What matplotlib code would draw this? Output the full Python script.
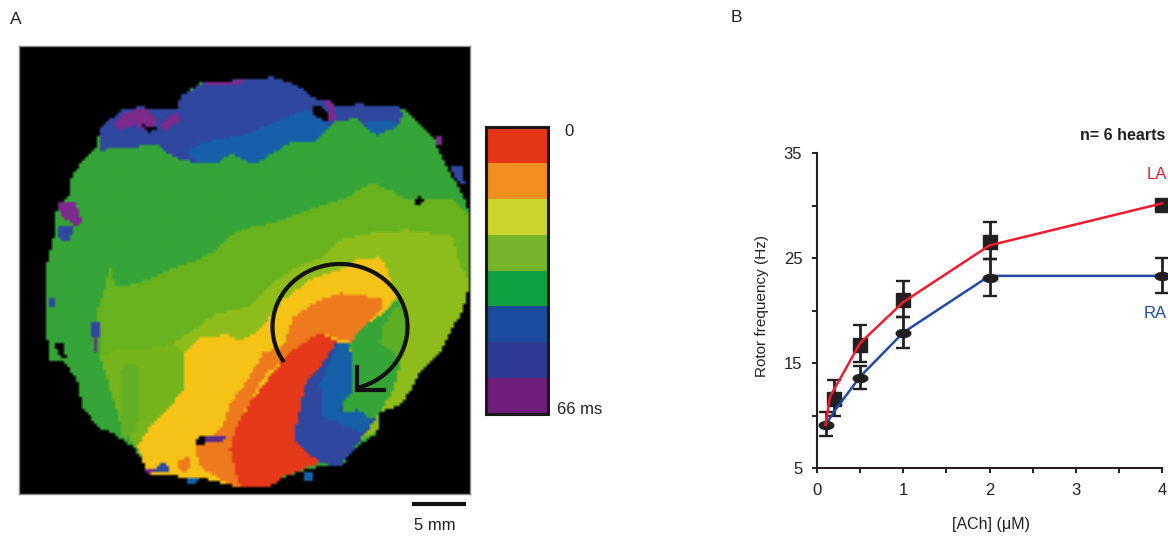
import matplotlib
matplotlib.use('Agg')
import matplotlib.pyplot as plt
import numpy as np
from matplotlib.colors import ListedColormap, to_rgb
from matplotlib.patches import Arc
from matplotlib.path import Path
from matplotlib.transforms import Affine2D
from matplotlib.ticker import MultipleLocator

plt.rcParams['font.family'] = ['Liberation Sans', 'DejaVu Sans']

# Panel B: rotor frequency
ach_la = [0.2, 0.5, 1, 2, 4]
freq_la = [11.6, 16.7, 21.0, 26.5, 30.05]
err_la_low = [1.6, 1.6, 1.6, 1.6, 0]
err_la_high = [1.8, 1.9, 1.8, 1.9, 0]
ach_ra = [0.1, 0.5, 1, 2, 4]
freq_ra = [9.1, 13.6, 17.9, 23.1, 23.3]
err_ra_low = [1.05, 1.1, 1.5, 1.7, 1.6]
err_ra_high = [1.2, 1.1, 1.5, 1.8, 1.7]
line_la_x = [0.1, 0.15, 0.22, 0.5, 1, 2, 4]
line_la_y = [9.1, 11.8, 12.8, 16.9, 20.8, 26.2, 30.2]
line_ra_x = [0.1, 0.2, 0.5, 1, 2, 4]
line_ra_y = [9.1, 10.4, 13.7, 17.9, 23.3, 23.3]

# Panel A: isochrone scale
scale_colors = ['#e53517', '#f18f1e', '#c9d32c', '#76b52a', '#0fa13f', '#1a4b9c', '#2e3a92', '#6f1d7b']

heart = [(203, 82), (240, 80), (273, 77), (300, 87), (313, 97), (340, 107), (357, 104), (400, 107), (413, 117),
         (433, 137), (443, 160), (460, 190), (470, 213), (470, 280), (463, 310), (450, 333), (440, 353), (420, 373),
         (403, 403), (380, 413), (377, 433), (357, 447), (340, 467), (317, 467), (283, 477), (270, 487), (240, 488),
         (213, 480), (183, 477), (147, 473), (143, 460), (133, 447), (113, 433), (97, 427), (83, 407), (77, 380),
         (63, 360), (50, 360), (47, 337), (47, 290), (47, 263), (53, 243), (57, 207), (70, 193), (70, 180), (83, 160),
         (97, 147), (100, 127), (123, 110), (140, 107), (177, 110), (180, 97), (200, 83)]
blue_top = [(100, 150), (133, 147), (157, 145), (173, 157), (197, 163), (217, 163), (233, 153), (240, 158), (253, 165),
            (290, 143), (313, 143), (327, 130), (333, 123), (357, 118), (367, 130), (377, 135), (397, 127), (403, 117),
            (400, 107), (357, 104), (340, 107), (313, 97), (300, 87), (273, 77), (240, 80), (203, 82), (180, 97),
            (177, 110), (140, 107), (123, 110), (100, 127)]
teal_top = [(187, 153), (200, 142), (227, 138), (250, 133), (273, 123), (297, 113), (307, 110), (327, 123), (327, 130),
            (313, 143), (290, 143), (253, 165), (240, 158), (233, 153), (217, 163), (197, 163)]
teal_top2 = [(367, 120), (390, 120), (397, 127), (377, 135), (367, 130)]
green2_band = [(97, 313), (105, 287), (110, 265), (115, 285), (127, 285), (147, 280), (167, 270), (197, 260), (217, 250),
               (227, 237), (250, 227), (273, 223), (300, 213), (340, 200), (373, 183), (390, 190), (407, 200), (453, 200),
               (470, 217), (470, 280), (323, 270), (250, 320), (197, 340), (100, 357)]
lime = [(100, 357), (117, 350), (140, 350), (173, 343), (197, 327), (217, 313), (250, 307), (270, 285), (300, 265),
        (323, 257), (340, 240), (373, 233), (407, 230), (453, 237), (460, 265), (470, 280), (463, 310), (450, 333),
        (440, 353), (420, 373), (403, 403), (380, 413), (377, 433), (300, 460), (137, 447), (122, 430), (115, 405), (107, 378)]
green2_low = [(100, 357), (107, 378), (115, 405), (122, 430), (137, 447), (150, 427), (167, 410), (185, 387), (183, 353),
              (173, 343), (140, 350), (117, 350)]
green2_patch = [(123, 363), (137, 363), (140, 380), (137, 430), (123, 440), (120, 410)]
yellow = [(183, 353), (200, 337), (227, 335), (240, 340), (257, 333), (273, 313), (283, 300), (310, 280), (340, 270),
          (357, 260), (380, 257), (387, 270), (397, 297), (383, 313), (363, 327), (350, 343), (300, 470), (240, 488),
          (213, 480), (183, 477), (147, 473), (143, 460), (137, 447), (150, 427), (167, 410), (185, 387), (183, 370)]
orange = [(283, 347), (293, 317), (320, 300), (340, 293), (380, 298), (383, 307), (367, 323), (353, 343), (320, 333),
          (293, 350), (283, 360), (265, 375), (240, 420), (240, 487), (233, 487), (200, 467), (195, 447), (207, 443),
          (223, 427), (230, 403), (248, 380), (263, 353)]
red = [(240, 487), (230, 450), (233, 437), (240, 420), (250, 403), (262, 387), (283, 360), (293, 350), (320, 333), (337, 342),
       (320, 367), (307, 383), (303, 403), (297, 420), (293, 440), (320, 463), (283, 477), (270, 487)]
blue_low = [(337, 342), (348, 342), (352, 363), (353, 390), (343, 403), (343, 412), (357, 410), (372, 420), (377, 417),
            (357, 445), (340, 467), (320, 463), (293, 440), (298, 417), (307, 380), (320, 367)]
teal_low = [(337, 342), (350, 343), (353, 390), (342, 403), (340, 413), (357, 410), (373, 420), (363, 433), (337, 423),
            (323, 417), (320, 383), (330, 360)]
green_low = [(350, 343), (363, 327), (383, 313), (397, 300), (404, 310), (407, 330), (400, 365), (395, 385), (390, 395),
             (380, 413), (373, 420), (357, 410), (343, 412), (343, 403), (353, 390), (352, 363)]
green2_arrow = [(397, 303), (383, 327), (380, 343), (403, 360), (407, 320)]

# Noisy bits along the edge of the map
blobs = [
    ('#7d2a8c', [(113, 125), (125, 112), (145, 108), (157, 120), (150, 132), (135, 125), (120, 130)]),
    ('#7d2a8c', [(160, 125), (178, 110), (180, 120), (165, 132)]),
    ('#7d2a8c', [(58, 203), (75, 202), (83, 222), (75, 226), (60, 215)]),
    ('#7d2a8c', [(205, 82), (245, 80), (240, 86), (205, 86)]),
    ('#7d2a8c', [(325, 100), (332, 100), (336, 118), (330, 122)]),
    ('#7d2a8c', [(436, 135), (441, 135), (442, 146), (437, 146)]),
    ('#2f479f', [(58, 226), (75, 226), (70, 240), (60, 240)]),
    ('#2f479f', [(450, 165), (462, 165), (465, 185), (455, 178)]),
    ('#2f479f', [(92, 323), (100, 323), (100, 338), (92, 338)]),
    ('#7d2a8c', [(93, 338), (98, 338), (97, 353), (93, 353)]),
    ('#2f479f', [(48, 297), (56, 297), (56, 308), (48, 308)]),
    ('#000000', [(142, 125), (158, 127), (150, 132)]),
    ('#000000', [(312, 105), (325, 108), (330, 122), (315, 118)]),
    ('#000000', [(415, 200), (420, 195), (425, 203), (415, 204)]),
    ('#000000', [(195, 440), (205, 435), (210, 443), (195, 445)]),
    ('#5a2a8c', [(205, 435), (228, 435), (222, 442), (205, 443)]),
    ('#2f479f', [(150, 470), (165, 462), (172, 470), (158, 473)]),
    ('#7d2a8c', [(145, 470), (155, 468), (150, 476)]),
    ('#1560a8', [(185, 477), (198, 478), (197, 485), (188, 483)]),
    ('#f5c316', [(145, 465), (157, 460), (160, 466), (150, 470)]),
    ('#ee7a1e', [(177, 460), (190, 457), (188, 472), (178, 470)]),
    ('#000000', [(55, 345), (62, 342), (66, 358), (58, 355)]),
    ('#1560a8', [(305, 472), (312, 472), (312, 482), (305, 482)]),
]

region_layers = [
    (heart, '#36a538'),
    (blue_top, '#2f479f'),
    (teal_top, '#1560a8'),
    (teal_top2, '#1560a8'),
    (green2_band, '#67b21e'),
    (lime, '#8ebc1b'),
    (green2_low, '#76b41c'),
    (green2_patch, '#62af24'),
    (yellow, '#f5c316'),
    (orange, '#ee7a1e'),
    (red, '#e5391a'),
    (blue_low, '#2f479f'),
    (teal_low, '#1560a8'),
    (green_low, '#36a538'),
    (green2_arrow, '#5cae25'),
]

W, H = 1168, 537
fig = plt.figure(figsize=(W / 100, H / 100), dpi=100)


def box(x0, y0, x1, y1):
    # pixel box (y from the top) to figure fractions
    return [x0 / W, 1 - y1 / H, (x1 - x0) / W, (y1 - y0) / H]


def label(x, y, s, **kw):
    kw.setdefault('fontsize', 12)
    kw.setdefault('color', '#231f20')
    fig.text(x / W, 1 - y / H, s, va='center', **kw)


# Map: the regions are rasterised on a coarse grid, blocky like the recording
ax_map = fig.add_axes(box(19, 46, 470, 494))
ax_map.set_facecolor('black')
cell = 3
gx, gy = np.meshgrid(np.arange(19, 470, cell) + cell / 2, np.arange(46, 494, cell) + cell / 2)
grid = np.column_stack([gx.ravel(), gy.ravel()])
img = np.zeros(gx.shape + (3,))
for pts, col in region_layers + [(p, c) for c, p in blobs]:
    mask = Path(pts + [pts[0]]).contains_points(grid).reshape(gx.shape)
    img[mask] = to_rgb(col)
ax_map.imshow(img, extent=(19, 19 + cell * gx.shape[1], 46 + cell * gx.shape[0], 46), interpolation='bilinear', aspect='auto')
ax_map.set_xlim(19, 470)
ax_map.set_ylim(494, 46)
ax_map.set_xticks([])
ax_map.set_yticks([])
for s in ax_map.spines.values():
    s.set_color('#8a8a8a')
    s.set_linewidth(1)

# Re-entry arrow
ax_map.add_patch(Arc((340, 327), 135, 126, theta1=148, theta2=436, color='#111111', lw=3))
ax_map.plot([357, 357, 384], [367, 390, 390], color='#111111', lw=3, solid_joinstyle='miter')

# Scale bar
ax_map.plot([412, 466], [504, 504], color='#111111', lw=3, clip_on=False, solid_capstyle='butt')
label(435, 526, '5 mm', ha='center', fontsize=12)

# Colour scale
ax_bar = fig.add_axes(box(486, 127, 548, 414))
ax_bar.pcolormesh([[i] for i in range(len(scale_colors))], cmap=ListedColormap(scale_colors),
                  vmin=-0.5, vmax=len(scale_colors) - 0.5)
ax_bar.invert_yaxis()
ax_bar.set_xticks([])
ax_bar.set_yticks([])
for s in ax_bar.spines.values():
    s.set_color('#1a1a1a')
    s.set_linewidth(2.2)
label(569, 131, '0', ha='center', fontsize=12)
label(557, 410, '66 ms', ha='left', fontsize=12)

# Frequency plot
ax = fig.add_axes(box(817, 153, 1162, 468))
ax.set_xlim(0, 4)
ax.set_ylim(5, 35)
ink = '#231f20'
oval = Path.unit_circle().transformed(Affine2D().scale(1, 0.55))
ax.errorbar(ach_ra, freq_ra, yerr=[err_ra_low, err_ra_high], fmt='none', ecolor=ink, elinewidth=2,
            capsize=5, capthick=1.7, clip_on=False, zorder=2)
ax.errorbar(ach_la, freq_la, yerr=[err_la_low, err_la_high], fmt='none', ecolor=ink, elinewidth=2,
            capsize=5, capthick=1.7, clip_on=False, zorder=2)
ax.plot(ach_la, freq_la, ls='none', marker='s', ms=10, color=ink, clip_on=False, zorder=3)
ax.plot(line_ra_x, line_ra_y, color='#1f4aa5', lw=1.8, clip_on=False, zorder=4)
ax.plot(ach_ra, freq_ra, ls='none', marker=oval, ms=10.5, color=ink, clip_on=False, zorder=4.5)
ax.plot(line_la_x, line_la_y, color='#ee1c2e', lw=1.8, clip_on=False, zorder=5)

ax.spines['top'].set_visible(False)
ax.spines['right'].set_visible(False)
ax.spines['left'].set_linewidth(1.5)
ax.spines['bottom'].set_linewidth(1.5)
ax.spines['left'].set_color(ink)
ax.spines['bottom'].set_color(ink)
ax.set_xticks([0, 1, 2, 3, 4])
ax.set_yticks([5, 15, 25, 35])
ax.xaxis.set_minor_locator(MultipleLocator(0.5))
ax.yaxis.set_minor_locator(MultipleLocator(5))
ax.tick_params(which='both', length=3.6, width=1.4, color=ink)
ax.tick_params(which='major', labelsize=12, labelcolor=ink)
ax.tick_params(axis='x', which='major', pad=7)
ax.tick_params(axis='y', which='major', pad=7)
ax.patch.set_alpha(0)

label(762, 306, 'Rotor frequency (Hz)', rotation=90, ha='center', fontsize=11)
label(991, 524, '[ACh] (μM)', ha='center', fontsize=11.5)
label(1165, 135, 'n= 6 hearts', ha='right', fontsize=11.5, fontweight='bold')
label(1167, 175, 'LA', ha='right', fontsize=12, color='#ee1c2e')
label(1167, 313, 'RA', ha='right', fontsize=12, color='#1f4aa5')
label(10, 19, 'A', ha='left', fontsize=12.5)
label(731, 17, 'B', ha='left', fontsize=12.5)

fig.savefig('out.png', dpi=100)
